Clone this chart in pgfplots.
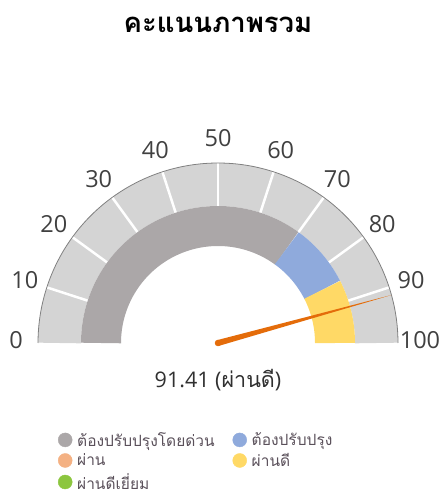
\documentclass[border=0pt]{standalone}
\usepackage{pgfplots}
\pgfplotsset{compat=1.18}
\usepgfplotslibrary{polar}
\usepackage{fontspec}
\setmainfont{Open Sans}
\newfontfamily\thai[Script=Thai]{Loma}
\definecolor{lgray}{HTML}{D4D4D4}
\definecolor{igray}{HTML}{ABA7A8}
\definecolor{iblue}{HTML}{8FAADC}
\definecolor{iyellow}{HTML}{FFD966}
\definecolor{iorange}{HTML}{F4B183}
\definecolor{igreen}{HTML}{8CC63F}
\definecolor{needle}{HTML}{E46C0A}
\definecolor{txt}{HTML}{404040}
\definecolor{legtxt}{HTML}{5A505A}
\begin{document}
\begin{tikzpicture}
\begin{axis}[x=1pt,y=1pt,xmin=-218,xmax=223,ymin=-152,ymax=343,
  hide axis, clip=false,
  legend columns=2,
  legend cell align=left,
  legend style={draw=none, fill=none, at={(axis cs:-163,-85)}, anchor=north west,
    font=\fontsize{15.5}{17}\selectfont\thai\color{legtxt},
    /tikz/every even column/.append style={column sep=13pt},
    /tikz/every odd column/.append style={column sep=0pt},
    nodes={inner xsep=5pt, inner ysep=2pt},
    row sep=1.5pt},
]
% outer light band
\addplot[data cs=polar, draw=lgray, line width=43pt, domain=0:100, samples=121, no markers, forget plot] ({180-1.8*x},158.5);
% white ticks
\pgfplotsinvokeforeach{10,20,30,40,50,60,70,80,90}{
\addplot[data cs=polar, draw=white, line width=2.5pt, no markers, forget plot] coordinates {({180-1.8*#1},135) ({180-1.8*#1},180)};
}
% outline
\addplot[data cs=polar, draw=gray, line width=0.8pt, domain=0:100, samples=121, no markers, forget plot] ({180-1.8*x},180);
% inner bands
\addplot[data cs=polar, draw=igray, line width=40pt, domain=0:70, samples=90, no markers, forget plot] ({180-1.8*x},117);
\addplot[data cs=polar, draw=iblue, line width=40pt, domain=70:85, samples=25, no markers, forget plot] ({180-1.8*x},117);
\addplot[data cs=polar, draw=iyellow, line width=40pt, domain=85:100, samples=25, no markers, forget plot] ({180-1.8*x},117);
% needle
\addplot[data cs=polar, fill=needle, draw=none, forget plot] coordinates {({180-1.8*91.41+90},3) ({180-1.8*91.41},180) ({180-1.8*91.41-90},3) ({180-1.8*91.41+180},3)};
\addplot[only marks, mark=*, mark size=3pt, color=needle, forget plot] coordinates {(0,0)};
% legend
\addlegendimage{only marks, mark=*, mark size=7pt, color=igray}
\addlegendentry{ต้องปรับปรุงโดยด่วน}
\addlegendimage{only marks, mark=*, mark size=7pt, color=iblue}
\addlegendentry{ต้องปรับปรุง}
\addlegendimage{only marks, mark=*, mark size=7pt, color=iorange}
\addlegendentry{ผ่าน}
\addlegendimage{only marks, mark=*, mark size=7pt, color=iyellow}
\addlegendentry{ผ่านดี}
\addlegendimage{only marks, mark=*, mark size=7pt, color=igreen}
\addlegendentry{ผ่านดีเยี่ยม}
% tick labels
\begin{scope}[every node/.style={font=\fontsize{23.5}{26}\selectfont, text=txt, anchor=center}]
\node at (axis cs:-202,3) {0};
\node at (axis cs:-193.1,62.7) {10};
\node at (axis cs:-164.2,119.3) {20};
\node at (axis cs:-119.3,164.2) {30};
\node at (axis cs:-62.7,193.1) {40};
\node at (axis cs:0,205) {50};
\node at (axis cs:62.7,193.1) {60};
\node at (axis cs:119.3,164.2) {70};
\node at (axis cs:164.2,119.3) {80};
\node at (axis cs:193.1,62.7) {90};
\node at (axis cs:202,3) {100};
\end{scope}
\node[font=\fontsize{27.5}{30}\selectfont\thai\bfseries, text=black] at (axis cs:0,318) {คะแนนภาพรวม};
\node[font=\fontsize{21.5}{24}\selectfont, text=txt!75!black] at (axis cs:0,-37) {91.41 ({\thai ผ่านดี})};
\end{axis}
\pgfresetboundingbox
\useasboundingbox (0,0) rectangle (441pt,495pt);
\end{tikzpicture}
\end{document}
